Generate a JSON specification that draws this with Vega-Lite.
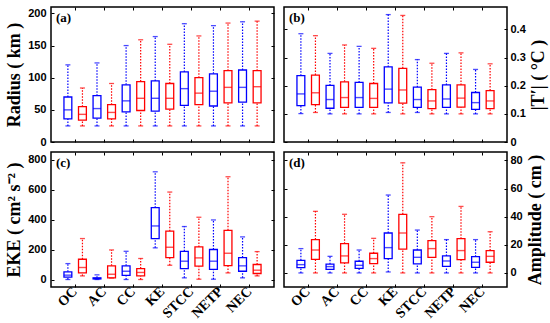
{
  "$schema": "https://vega.github.io/schema/vega-lite/v6.json",
  "background": "white",
  "padding": {"left": 4, "top": 5, "right": 2, "bottom": 2},
  "datasets": {
    "radius": [
      {"r":"OC","g":"A","lo":25,"q1":36,"med":50,"q3":70,"hi":120},
      {"r":"OC","g":"B","lo":25,"q1":34,"med":43,"q3":55,"hi":84},
      {"r":"AC","g":"A","lo":25,"q1":37,"med":52,"q3":72,"hi":123},
      {"r":"AC","g":"B","lo":25,"q1":36,"med":46,"q3":58,"hi":91},
      {"r":"CC","g":"A","lo":25,"q1":47,"med":64,"q3":89,"hi":150},
      {"r":"CC","g":"B","lo":25,"q1":49,"med":68,"q3":94,"hi":159},
      {"r":"KE","g":"A","lo":25,"q1":48,"med":68,"q3":95,"hi":164},
      {"r":"KE","g":"B","lo":25,"q1":51,"med":68,"q3":91,"hi":152},
      {"r":"STCC","g":"A","lo":25,"q1":57,"med":83,"q3":109,"hi":184},
      {"r":"STCC","g":"B","lo":25,"q1":58,"med":76,"q3":100,"hi":165},
      {"r":"NETP","g":"A","lo":25,"q1":56,"med":79,"q3":106,"hi":181},
      {"r":"NETP","g":"B","lo":25,"q1":61,"med":85,"q3":111,"hi":185},
      {"r":"NEC","g":"A","lo":25,"q1":62,"med":85,"q3":112,"hi":187},
      {"r":"NEC","g":"B","lo":25,"q1":61,"med":86,"q3":111,"hi":188}
    ],
    "temp": [
      {"r":"OC","g":"A","lo":0.101,"q1":0.129,"med":0.171,"q3":0.236,"hi":0.385},
      {"r":"OC","g":"B","lo":0.105,"q1":0.133,"med":0.175,"q3":0.238,"hi":0.378},
      {"r":"AC","g":"A","lo":0.1,"q1":0.12,"med":0.151,"q3":0.201,"hi":0.315},
      {"r":"AC","g":"B","lo":0.1,"q1":0.123,"med":0.158,"q3":0.214,"hi":0.345},
      {"r":"CC","g":"A","lo":0.1,"q1":0.123,"med":0.158,"q3":0.212,"hi":0.34},
      {"r":"CC","g":"B","lo":0.1,"q1":0.123,"med":0.155,"q3":0.208,"hi":0.333},
      {"r":"KE","g":"A","lo":0.105,"q1":0.139,"med":0.188,"q3":0.267,"hi":0.453},
      {"r":"KE","g":"B","lo":0.1,"q1":0.138,"med":0.185,"q3":0.262,"hi":0.45},
      {"r":"STCC","g":"A","lo":0.105,"q1":0.123,"med":0.151,"q3":0.195,"hi":0.293},
      {"r":"STCC","g":"B","lo":0.1,"q1":0.119,"med":0.146,"q3":0.186,"hi":0.28},
      {"r":"NETP","g":"A","lo":0.1,"q1":0.123,"med":0.153,"q3":0.203,"hi":0.315},
      {"r":"NETP","g":"B","lo":0.1,"q1":0.124,"med":0.156,"q3":0.203,"hi":0.317},
      {"r":"NEC","g":"A","lo":0.1,"q1":0.116,"med":0.14,"q3":0.176,"hi":0.258},
      {"r":"NEC","g":"B","lo":0.1,"q1":0.119,"med":0.146,"q3":0.183,"hi":0.278}
    ],
    "eke": [
      {"r":"OC","g":"A","lo":0,"q1":16,"med":29,"q3":51,"hi":106},
      {"r":"OC","g":"B","lo":24,"q1":44,"med":80,"q3":135,"hi":273},
      {"r":"AC","g":"A","lo":0,"q1":4,"med":7,"q3":11,"hi":31},
      {"r":"AC","g":"B","lo":10,"q1":11,"med":35,"q3":91,"hi":197},
      {"r":"CC","g":"A","lo":0,"q1":27,"med":55,"q3":91,"hi":188},
      {"r":"CC","g":"B","lo":0,"q1":24,"med":47,"q3":73,"hi":140},
      {"r":"KE","g":"A","lo":211,"q1":273,"med":357,"q3":479,"hi":718},
      {"r":"KE","g":"B","lo":95,"q1":146,"med":215,"q3":322,"hi":583},
      {"r":"STCC","g":"A","lo":11,"q1":73,"med":122,"q3":188,"hi":353},
      {"r":"STCC","g":"B","lo":2,"q1":89,"med":144,"q3":217,"hi":415},
      {"r":"NETP","g":"A","lo":2,"q1":67,"med":122,"q3":200,"hi":397},
      {"r":"NETP","g":"B","lo":44,"q1":93,"med":175,"q3":328,"hi":685},
      {"r":"NEC","g":"A","lo":11,"q1":55,"med":91,"q3":146,"hi":284},
      {"r":"NEC","g":"B","lo":24,"q1":40,"med":62,"q3":100,"hi":186}
    ],
    "amp": [
      {"r":"OC","g":"A","lo":0,"q1":3.8,"med":5.9,"q3":9,"hi":17.3},
      {"r":"OC","g":"B","lo":0,"q1":9.7,"med":16.3,"q3":23.7,"hi":43.8},
      {"r":"AC","g":"A","lo":0,"q1":2.6,"med":4.5,"q3":6.2,"hi":11.8},
      {"r":"AC","g":"B","lo":0,"q1":7.1,"med":12.1,"q3":20.8,"hi":41.7},
      {"r":"CC","g":"A","lo":0,"q1":3.3,"med":5.4,"q3":8.3,"hi":16.3},
      {"r":"CC","g":"B","lo":0,"q1":6.6,"med":10.2,"q3":14,"hi":24.6},
      {"r":"KE","g":"A","lo":0.7,"q1":10.2,"med":18,"q3":28.4,"hi":55.4},
      {"r":"KE","g":"B","lo":0,"q1":17,"med":28.4,"q3":41.7,"hi":78.3},
      {"r":"STCC","g":"A","lo":0,"q1":6.4,"med":11.1,"q3":16.3,"hi":30.5},
      {"r":"STCC","g":"B","lo":0,"q1":11.1,"med":17.3,"q3":23,"hi":40},
      {"r":"NETP","g":"A","lo":0,"q1":4.7,"med":8.5,"q3":12.1,"hi":23.7},
      {"r":"NETP","g":"B","lo":0,"q1":9.5,"med":15.9,"q3":24.4,"hi":47.3},
      {"r":"NEC","g":"A","lo":0,"q1":4,"med":7.6,"q3":11.6,"hi":23.7},
      {"r":"NEC","g":"B","lo":0,"q1":7.6,"med":11.8,"q3":15.9,"hi":29.3}
    ]
  },
  "columns": 2,
  "spacing": {"row": 10, "column": 10},
  "bounds": "flush",
  "concat": [
    {
      "width": 223, "height": 135,
      "data": {"name": "radius"},
      "title": {"text": "(a)"},
      "encoding": {"xOffset": {"field": "g", "type": "nominal", "scale": {"paddingInner": 0.46, "paddingOuter": 0.23}}},
      "resolve": {"axis": {"x": "independent", "y": "independent"}},
      "layer": [
        {"mark": {"type": "rule", "strokeDash": [1.5, 1.5], "strokeWidth": 1.2},
         "encoding": {
           "x": {"field": "r", "type": "nominal", "sort": ["OC","AC","CC","KE","STCC","NETP","NEC"], "scale": {"paddingInner": 0, "paddingOuter": 0.33}, "axis": {"orient": "bottom", "labels": false, "title": null, "domain": false, "tickSize": -3}},
           "y": {"field": "lo", "type": "quantitative", "scale": {"domain": [0, 210], "nice": false, "zero": false}, "axis": {"orient": "left", "values": [0,50,100,150,200], "title": "Radius ( km )", "domain": false, "tickSize": -3, "labelPadding": 8, "titlePadding": 4}},
           "y2": {"field": "q1"},
           "color": {"field": "g", "type": "nominal", "scale": {"domain": ["A","B"], "range": ["#0000ff","#ff0000"]}, "legend": null}}},
        {"mark": {"type": "rule", "strokeDash": [1.5, 1.5], "strokeWidth": 1.2},
         "encoding": {
           "x": {"field": "r", "type": "nominal", "sort": ["OC","AC","CC","KE","STCC","NETP","NEC"], "axis": {"orient": "top", "labels": false, "title": null, "domain": false, "tickSize": -3}},
           "y": {"field": "q3", "type": "quantitative", "axis": {"orient": "right", "values": [0,50,100,150,200], "labels": false, "title": null, "domain": false, "tickSize": -3}},
           "y2": {"field": "hi"},
           "color": {"field": "g", "type": "nominal", "legend": null}}},
        {"mark": {"type": "bar", "fill": "white", "strokeWidth": 1.3},
         "encoding": {
           "x": {"field": "r", "type": "nominal", "sort": ["OC","AC","CC","KE","STCC","NETP","NEC"], "axis": null},
           "y": {"field": "q1", "type": "quantitative", "axis": null},
           "y2": {"field": "q3"},
           "stroke": {"field": "g", "type": "nominal", "scale": {"domain": ["A","B"], "range": ["#0000ff","#ff0000"]}, "legend": null}}},
        {"mark": {"type": "tick", "thickness": 1.4, "size": 8},
         "encoding": {
           "x": {"field": "r", "type": "nominal", "sort": ["OC","AC","CC","KE","STCC","NETP","NEC"], "axis": null},
           "y": {"field": "med", "type": "quantitative", "axis": null},
           "color": {"field": "g", "type": "nominal", "legend": null}}},
        {"mark": {"type": "tick", "thickness": 1.3, "size": 5},
         "encoding": {
           "x": {"field": "r", "type": "nominal", "sort": ["OC","AC","CC","KE","STCC","NETP","NEC"], "axis": null},
           "y": {"field": "lo", "type": "quantitative", "axis": null},
           "color": {"field": "g", "type": "nominal", "legend": null}}},
        {"mark": {"type": "tick", "thickness": 1.3, "size": 5},
         "encoding": {
           "x": {"field": "r", "type": "nominal", "sort": ["OC","AC","CC","KE","STCC","NETP","NEC"], "axis": null},
           "y": {"field": "hi", "type": "quantitative", "axis": null},
           "color": {"field": "g", "type": "nominal", "legend": null}}}
      ]
    },
    {
      "width": 223, "height": 135,
      "data": {"name": "temp"},
      "title": {"text": "(b)"},
      "encoding": {"xOffset": {"field": "g", "type": "nominal", "scale": {"paddingInner": 0.46, "paddingOuter": 0.23}}},
      "resolve": {"axis": {"x": "independent", "y": "independent"}},
      "layer": [
        {"mark": {"type": "rule", "strokeDash": [1.5, 1.5], "strokeWidth": 1.2},
         "encoding": {
           "x": {"field": "r", "type": "nominal", "sort": ["OC","AC","CC","KE","STCC","NETP","NEC"], "scale": {"paddingInner": 0, "paddingOuter": 0.33}, "axis": {"orient": "bottom", "labels": false, "title": null, "domain": false, "tickSize": -3}},
           "y": {"field": "lo", "type": "quantitative", "scale": {"domain": [0, 0.48], "nice": false, "zero": false}, "axis": {"orient": "right", "values": [0,0.1,0.2,0.3,0.4], "labelExpr": "datum.value == 0 ? '0' : format(datum.value, '.1f')", "title": "|T′| ( °C )", "titleAngle": 270, "titleBaseline": "top", "domain": false, "tickSize": -3, "labelPadding": 6, "titlePadding": 4}},
           "y2": {"field": "q1"},
           "color": {"field": "g", "type": "nominal", "scale": {"domain": ["A","B"], "range": ["#0000ff","#ff0000"]}, "legend": null}}},
        {"mark": {"type": "rule", "strokeDash": [1.5, 1.5], "strokeWidth": 1.2},
         "encoding": {
           "x": {"field": "r", "type": "nominal", "sort": ["OC","AC","CC","KE","STCC","NETP","NEC"], "axis": {"orient": "top", "labels": false, "title": null, "domain": false, "tickSize": -3}},
           "y": {"field": "q3", "type": "quantitative", "axis": {"orient": "left", "values": [0,0.1,0.2,0.3,0.4], "labels": false, "title": null, "domain": false, "tickSize": -3}},
           "y2": {"field": "hi"},
           "color": {"field": "g", "type": "nominal", "legend": null}}},
        {"mark": {"type": "bar", "fill": "white", "strokeWidth": 1.3},
         "encoding": {
           "x": {"field": "r", "type": "nominal", "sort": ["OC","AC","CC","KE","STCC","NETP","NEC"], "axis": null},
           "y": {"field": "q1", "type": "quantitative", "axis": null},
           "y2": {"field": "q3"},
           "stroke": {"field": "g", "type": "nominal", "scale": {"domain": ["A","B"], "range": ["#0000ff","#ff0000"]}, "legend": null}}},
        {"mark": {"type": "tick", "thickness": 1.4, "size": 8},
         "encoding": {
           "x": {"field": "r", "type": "nominal", "sort": ["OC","AC","CC","KE","STCC","NETP","NEC"], "axis": null},
           "y": {"field": "med", "type": "quantitative", "axis": null},
           "color": {"field": "g", "type": "nominal", "legend": null}}},
        {"mark": {"type": "tick", "thickness": 1.3, "size": 5},
         "encoding": {
           "x": {"field": "r", "type": "nominal", "sort": ["OC","AC","CC","KE","STCC","NETP","NEC"], "axis": null},
           "y": {"field": "lo", "type": "quantitative", "axis": null},
           "color": {"field": "g", "type": "nominal", "legend": null}}},
        {"mark": {"type": "tick", "thickness": 1.3, "size": 5},
         "encoding": {
           "x": {"field": "r", "type": "nominal", "sort": ["OC","AC","CC","KE","STCC","NETP","NEC"], "axis": null},
           "y": {"field": "hi", "type": "quantitative", "axis": null},
           "color": {"field": "g", "type": "nominal", "legend": null}}}
      ]
    },
    {
      "width": 223, "height": 135,
      "data": {"name": "eke"},
      "title": {"text": "(c)"},
      "encoding": {"xOffset": {"field": "g", "type": "nominal", "scale": {"paddingInner": 0.46, "paddingOuter": 0.23}}},
      "resolve": {"axis": {"x": "independent", "y": "independent"}},
      "layer": [
        {"mark": {"type": "rule", "strokeDash": [1.5, 1.5], "strokeWidth": 1.2},
         "encoding": {
           "x": {"field": "r", "type": "nominal", "sort": ["OC","AC","CC","KE","STCC","NETP","NEC"], "scale": {"paddingInner": 0, "paddingOuter": 0.33}, "axis": {"orient": "bottom", "title": null, "domain": false, "tickSize": -3, "labelAngle": -45, "labelAlign": "right", "labelBaseline": "middle", "labelFont": "Liberation Serif", "labelFontSize": 14, "labelPadding": 5}},
           "y": {"field": "lo", "type": "quantitative", "scale": {"domain": [-50, 850], "nice": false, "zero": false}, "axis": {"orient": "left", "values": [0,200,400,600,800], "title": "EKE ( cm² s⁻² )", "domain": false, "tickSize": -3, "labelPadding": 8, "titlePadding": 4}},
           "y2": {"field": "q1"},
           "color": {"field": "g", "type": "nominal", "scale": {"domain": ["A","B"], "range": ["#0000ff","#ff0000"]}, "legend": null}}},
        {"mark": {"type": "rule", "strokeDash": [1.5, 1.5], "strokeWidth": 1.2},
         "encoding": {
           "x": {"field": "r", "type": "nominal", "sort": ["OC","AC","CC","KE","STCC","NETP","NEC"], "axis": {"orient": "top", "labels": false, "title": null, "domain": false, "tickSize": -3}},
           "y": {"field": "q3", "type": "quantitative", "axis": {"orient": "right", "values": [0,200,400,600,800], "labels": false, "title": null, "domain": false, "tickSize": -3}},
           "y2": {"field": "hi"},
           "color": {"field": "g", "type": "nominal", "legend": null}}},
        {"mark": {"type": "bar", "fill": "white", "strokeWidth": 1.3},
         "encoding": {
           "x": {"field": "r", "type": "nominal", "sort": ["OC","AC","CC","KE","STCC","NETP","NEC"], "axis": null},
           "y": {"field": "q1", "type": "quantitative", "axis": null},
           "y2": {"field": "q3"},
           "stroke": {"field": "g", "type": "nominal", "scale": {"domain": ["A","B"], "range": ["#0000ff","#ff0000"]}, "legend": null}}},
        {"mark": {"type": "tick", "thickness": 1.4, "size": 8},
         "encoding": {
           "x": {"field": "r", "type": "nominal", "sort": ["OC","AC","CC","KE","STCC","NETP","NEC"], "axis": null},
           "y": {"field": "med", "type": "quantitative", "axis": null},
           "color": {"field": "g", "type": "nominal", "legend": null}}},
        {"mark": {"type": "tick", "thickness": 1.3, "size": 5},
         "encoding": {
           "x": {"field": "r", "type": "nominal", "sort": ["OC","AC","CC","KE","STCC","NETP","NEC"], "axis": null},
           "y": {"field": "lo", "type": "quantitative", "axis": null},
           "color": {"field": "g", "type": "nominal", "legend": null}}},
        {"mark": {"type": "tick", "thickness": 1.3, "size": 5},
         "encoding": {
           "x": {"field": "r", "type": "nominal", "sort": ["OC","AC","CC","KE","STCC","NETP","NEC"], "axis": null},
           "y": {"field": "hi", "type": "quantitative", "axis": null},
           "color": {"field": "g", "type": "nominal", "legend": null}}}
      ]
    },
    {
      "width": 223, "height": 135,
      "data": {"name": "amp"},
      "title": {"text": "(d)"},
      "encoding": {"xOffset": {"field": "g", "type": "nominal", "scale": {"paddingInner": 0.46, "paddingOuter": 0.23}}},
      "resolve": {"axis": {"x": "independent", "y": "independent"}},
      "layer": [
        {"mark": {"type": "rule", "strokeDash": [1.5, 1.5], "strokeWidth": 1.2},
         "encoding": {
           "x": {"field": "r", "type": "nominal", "sort": ["OC","AC","CC","KE","STCC","NETP","NEC"], "scale": {"paddingInner": 0, "paddingOuter": 0.33}, "axis": {"orient": "bottom", "title": null, "domain": false, "tickSize": -3, "labelAngle": -45, "labelAlign": "right", "labelBaseline": "middle", "labelFont": "Liberation Serif", "labelFontSize": 14, "labelPadding": 5}},
           "y": {"field": "lo", "type": "quantitative", "scale": {"domain": [-10, 86], "nice": false, "zero": false}, "axis": {"orient": "right", "values": [0,20,40,60,80], "title": "Amplitude ( cm )", "titleAngle": 270, "titleBaseline": "top", "domain": false, "tickSize": -3, "labelPadding": 6, "titlePadding": 4}},
           "y2": {"field": "q1"},
           "color": {"field": "g", "type": "nominal", "scale": {"domain": ["A","B"], "range": ["#0000ff","#ff0000"]}, "legend": null}}},
        {"mark": {"type": "rule", "strokeDash": [1.5, 1.5], "strokeWidth": 1.2},
         "encoding": {
           "x": {"field": "r", "type": "nominal", "sort": ["OC","AC","CC","KE","STCC","NETP","NEC"], "axis": {"orient": "top", "labels": false, "title": null, "domain": false, "tickSize": -3}},
           "y": {"field": "q3", "type": "quantitative", "axis": {"orient": "left", "values": [0,20,40,60,80], "labels": false, "title": null, "domain": false, "tickSize": -3}},
           "y2": {"field": "hi"},
           "color": {"field": "g", "type": "nominal", "legend": null}}},
        {"mark": {"type": "bar", "fill": "white", "strokeWidth": 1.3},
         "encoding": {
           "x": {"field": "r", "type": "nominal", "sort": ["OC","AC","CC","KE","STCC","NETP","NEC"], "axis": null},
           "y": {"field": "q1", "type": "quantitative", "axis": null},
           "y2": {"field": "q3"},
           "stroke": {"field": "g", "type": "nominal", "scale": {"domain": ["A","B"], "range": ["#0000ff","#ff0000"]}, "legend": null}}},
        {"mark": {"type": "tick", "thickness": 1.4, "size": 8},
         "encoding": {
           "x": {"field": "r", "type": "nominal", "sort": ["OC","AC","CC","KE","STCC","NETP","NEC"], "axis": null},
           "y": {"field": "med", "type": "quantitative", "axis": null},
           "color": {"field": "g", "type": "nominal", "legend": null}}},
        {"mark": {"type": "tick", "thickness": 1.3, "size": 5},
         "encoding": {
           "x": {"field": "r", "type": "nominal", "sort": ["OC","AC","CC","KE","STCC","NETP","NEC"], "axis": null},
           "y": {"field": "lo", "type": "quantitative", "axis": null},
           "color": {"field": "g", "type": "nominal", "legend": null}}},
        {"mark": {"type": "tick", "thickness": 1.3, "size": 5},
         "encoding": {
           "x": {"field": "r", "type": "nominal", "sort": ["OC","AC","CC","KE","STCC","NETP","NEC"], "axis": null},
           "y": {"field": "hi", "type": "quantitative", "axis": null},
           "color": {"field": "g", "type": "nominal", "legend": null}}}
      ]
    }
  ],
  "config": {
    "view": {"stroke": "#000", "strokeWidth": 1.5},
    "axis": {"labelFont": "Liberation Sans", "labelFontWeight": "bold", "labelFontSize": 11, "labelColor": "#000", "tickColor": "#000", "tickWidth": 1, "titleFont": "Liberation Serif", "titleFontSize": 18, "titleFontWeight": "bold", "titleColor": "#000", "grid": false},
    "title": {"anchor": "start", "frame": "group", "offset": -18, "dx": 5, "baseline": "top", "font": "Liberation Serif", "fontSize": 13, "fontWeight": "bold", "color": "#000"}
  }
}
